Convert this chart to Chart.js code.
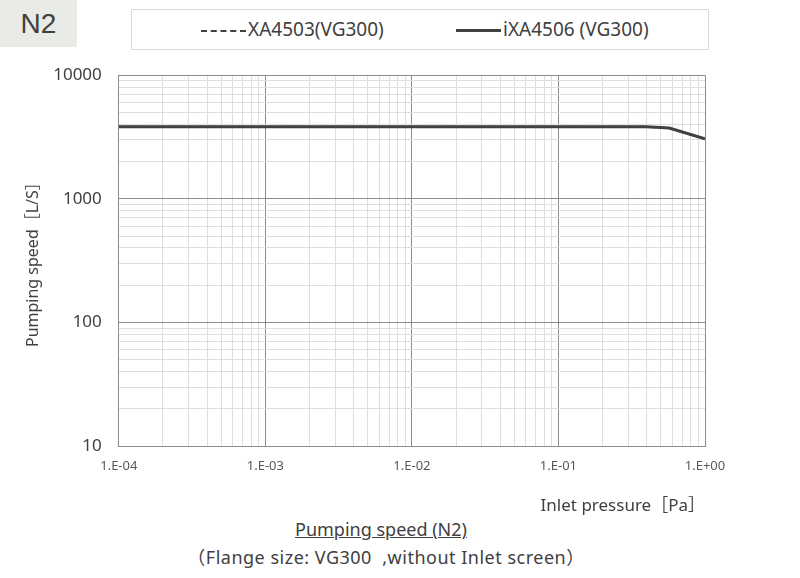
<!DOCTYPE html>
<html>
<head>
<meta charset="utf-8">
<script src="https://cdn.jsdelivr.net/npm/chart.js@4/dist/chart.umd.min.js"></script>
<style>
  html, body { margin: 0; padding: 0; background: #fff; }
  body { width: 800px; height: 578px; position: relative; overflow: hidden;
         font-family: "Noto Sans", "Noto Sans CJK JP", sans-serif; color: #404040; }
  #tag { position: absolute; left: 0; top: 0; width: 77px; height: 47px; background: #e8ebe6;
         font-family: "Liberation Sans", sans-serif; font-size: 28px; line-height: 47px; text-align: center; color: #404040; }
  #legend { position: absolute; left: 131px; top: 9px; width: 578px; height: 41px; border: 1px solid #d9d9d9;
            box-sizing: border-box; font-size: 19px; }
  #legend .item { position: absolute; top: 8px; white-space: nowrap; line-height: 22px; }
  #legend .swatch { display: inline-block; width: 45px; height: 0; vertical-align: middle; margin-right: 2px; }
  #wrap { position: absolute; left: 0; top: 48px; width: 800px; height: 468px; }
  #cap1 { position: absolute; left: 0; width: 762px; top: 517px; text-align: center; font-size: 18px; text-decoration: underline; }
  #cap2 { position: absolute; left: 0; width: 772px; top: 543px; text-align: center; font-size: 18px; letter-spacing: 0.5px; }
</style>
</head>
<body>
<div id="tag">N2</div>
<div id="legend">
  <div class="item" style="left:69px"><span class="swatch" style="border-top:2px dashed #404040"></span>XA4503(VG300)</div>
  <div class="item" style="left:324px"><span class="swatch" style="border-top:3px solid #404040"></span>iXA4506 (VG300)</div>
</div>
<div id="wrap"><canvas id="chart"></canvas></div>
<div id="cap1">Pumping speed (N2)</div>
<div id="cap2">（Flange size: VG300&nbsp; ,without Inlet screen）</div>

<script>
// inlet pressure [Pa]
const pressure = [1e-4, 1e-3, 1e-2, 1e-1, 0.4, 0.57, 1.0];
// pumping speed [L/s]
const speedXA4503 = [3830, 3830, 3830, 3830, 3820, 3740, 3050];
const speedIXA4506 = [3830, 3830, 3830, 3830, 3820, 3740, 3050];
// axis limits
const xRange = [1e-4, 1];
const yRange = [10, 10000];

function isDecade(v) {
  const l = Math.log10(v);
  return Math.abs(l - Math.round(l)) < 1e-9;
}

function logTicks(min, max) {
  const out = [];
  const lo = Math.round(Math.log10(min)), hi = Math.round(Math.log10(max));
  for (let e = lo; e < hi; e++) {
    for (let k = 1; k < 10; k++) out.push({ value: k * Math.pow(10, e) });
  }
  out.push({ value: Math.pow(10, hi) });
  return out;
}

function sciLabel(v) {
  const e = Math.round(Math.log10(v));
  return '1.E' + (e < 0 ? '-' : '+') + String(Math.abs(e)).padStart(2, '0');
}

const gridColor = ctx => (ctx.tick && isDecade(ctx.tick.value)) ? '#8c8c8c' : '#dedede';

const ctx = document.getElementById('chart').getContext('2d');
new Chart(ctx, {
  type: 'line',
  data: {
    datasets: [
      {
        label: 'iXA4506 (VG300)',
        data: pressure.map((p, i) => ({ x: p, y: speedIXA4506[i] })),
        borderColor: '#404040',
        borderWidth: 3,
        pointRadius: 0,
        tension: 0,
        order: 1
      },
      {
        label: 'XA4503(VG300)',
        data: pressure.map((p, i) => ({ x: p, y: speedXA4503[i] })),
        borderColor: '#404040',
        borderWidth: 2,
        borderDash: [6, 4],
        pointRadius: 0,
        tension: 0,
        order: 2
      }
    ]
  },
  options: {
    responsive: true,
    maintainAspectRatio: false,
    animation: false,
    layout: { padding: { left: 24, right: 95, top: 3, bottom: 0 } },
    plugins: { legend: { display: false }, tooltip: { enabled: false } },
    scales: {
      x: {
        type: 'logarithmic',
        min: xRange[0],
        max: xRange[1],
        afterBuildTicks: s => { s.ticks = logTicks(xRange[0], xRange[1]); },
        ticks: {
          autoSkip: false,
          maxRotation: 0,
          padding: 12,
          color: '#595959',
          font: { family: 'Noto Sans', size: 13 },
          callback: v => isDecade(v) ? sciLabel(v) : ''
        },
        grid: { color: gridColor, lineWidth: 1, drawTicks: false },
        border: { color: '#8c8c8c' },
        title: {
          display: true,
          text: 'Inlet pressure［Pa］',
          align: 'end',
          color: '#404040',
          font: { family: 'Noto Sans, Noto Sans CJK JP', size: 17 },
          padding: { top: 10, bottom: 0 }
        }
      },
      y: {
        type: 'logarithmic',
        min: yRange[0],
        max: yRange[1],
        afterBuildTicks: s => { s.ticks = logTicks(yRange[0], yRange[1]); },
        ticks: {
          autoSkip: false,
          padding: 17,
          color: '#404040',
          font: { family: 'Noto Sans', size: 17 },
          callback: v => isDecade(v) ? String(Math.round(v)) : ''
        },
        grid: { color: gridColor, lineWidth: 1, drawTicks: false },
        border: { color: '#8c8c8c' },
        title: {
          display: true,
          text: 'Pumping speed［L/S］',
          color: '#404040',
          font: { family: 'Noto Sans, Noto Sans CJK JP', size: 16 },
          padding: { top: 0, bottom: -7 }
        }
      }
    }
  }
});
</script>
</body>
</html>
